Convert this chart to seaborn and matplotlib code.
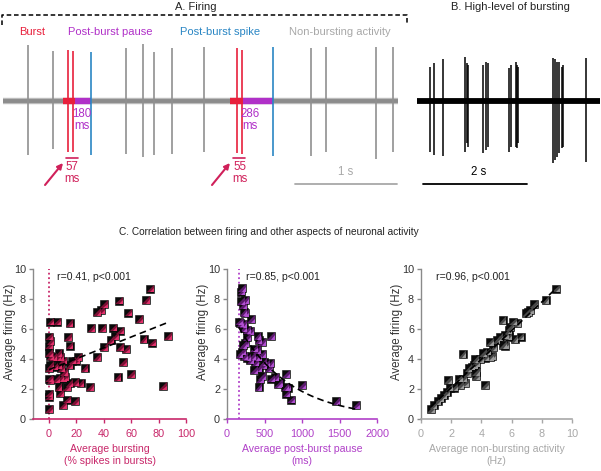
import numpy as np
import matplotlib
matplotlib.use("Agg")
import matplotlib.pyplot as plt
from matplotlib.path import Path
import seaborn as sns

sns.set_theme(style="white")
plt.rcParams['font.family'] = ['Liberation Sans', 'DejaVu Sans']
plt.rcParams['font.size'] = 8

# ---------------- data ----------------
# Panel A: spike times (s) and amplitudes (up / down, a.u.)
a_gray_t = [0.245, 0.49, 1.206, 1.373, 1.48, 1.657, 1.97, 3.02, 3.167, 3.657, 3.824]
a_gray_up = [56, 50, 53, 57, 49, 53, 54, 53, 54, 54, 54]
a_gray_dn = [54, 48, 53, 56, 54, 53, 51, 55, 51, 58, 51]
a_burst_t = [0.637, 0.686, 2.294, 2.343]
a_burst_up = [51, 50, 53, 51]
a_burst_dn = [51, 51, 52, 53]
a_pbs_t = [0.863, 2.647]
a_pbs_up = [49, 54]
a_pbs_dn = [54, 55]
a_duration = 3.873
a_burst_win = [(0.588, 0.706), (2.225, 2.353)]
a_pause_win = [(0.706, 0.863), (2.353, 2.647)]
a_pause_lbl = ["180\nms", "286\nms"]
a_burst_lbl = ["57\nms", "55\nms"]

# Panel B: high-level of bursting
b_t = [0.25, 0.327, 0.5, 0.923, 0.962, 0.981, 1.269, 1.327, 1.365, 1.769, 1.808,
       1.904, 1.923, 1.942, 2.615, 2.654, 2.692, 2.731, 2.788, 2.808, 3.25]
b_up = [34, 38, 42, 44, 38, 36, 36, 39, 38, 33, 36, 39, 36, 34, 43, 42, 39, 39, 34, 36, 43]
b_dn = [51, 54, 55, 51, 42, 46, 52, 49, 46, 51, 46, 46, 47, 42, 62, 59, 56, 52, 47, 46, 61]
b_duration = 3.52

# Panel C1: bursting (%) vs firing (Hz)
x1 = [0, 0, 0, 0, 1, 0, 1, 0, 1, 0, 1, 0, 1, 6, 15, 14, 15, 3, 6, 7, 8, 10, 4, 7, 9, 11, 5, 8,
      10, 12, 7, 8, 13, 13, 10, 19, 15, 19, 23, 15, 17, 20, 21, 26, 30, 31, 35, 35, 38, 40, 39,
      40, 45, 47, 48, 51, 52, 52, 54, 56, 50, 58, 60, 66, 69, 71, 74, 75, 83, 87]
y1 = [0.65, 1.7, 1.5, 2.7, 2.6, 3.4, 3.6, 4.4, 4.2, 4.9, 5.2, 5.5, 6.5, 6.5, 6.4, 5.45, 4.9,
      4.15, 4.1, 4.4, 4.15, 3.9, 3.5, 3.6, 3.4, 3.15, 2.65, 2.75, 2.7, 2.8, 2.15, 1.75, 2.15,
      1.3, 0.95, 1.2, 2.4, 2.45, 2.4, 3.6, 3.9, 3.9, 4.15, 3.4, 2.15, 6.05, 4.15, 7.15, 7.25,
      7.65, 6.05, 4.8, 5.25, 6.1, 5.55, 7.9, 5.9, 4.8, 3.8, 4.65, 2.8, 7.1, 3.0, 6.65, 5.35,
      7.95, 8.7, 5.1, 2.2, 5.55]
thr1 = 0

# Panel C2: post-burst pause (ms) vs firing (Hz)
x2 = [191, 200, 187, 244, 213, 222, 236, 324, 156, 178, 213, 222, 267, 311, 267, 244, 213, 409,
      587, 422, 467, 356, 400, 169, 200, 231, 267, 333, 387, 422, 467, 311, 378, 489, 520, 578,
      364, 422, 489, 556, 467, 436, 587, 644, 422, 702, 676, 778, 809, 791, 787, 853, 1000,
      1458, 1716]
y2 = [8.5, 8.75, 7.85, 7.95, 7.6, 7.15, 7.05, 6.65, 6.5, 6.4, 6.35, 6.05, 5.95, 5.85, 5.45,
      5.05, 4.95, 5.55, 5.55, 5.25, 5.15, 4.7, 4.6, 4.35, 4.5, 4.2, 4.1, 4.2, 4.15, 4.15, 4.35,
      3.95, 3.8, 3.8, 3.7, 3.75, 3.25, 3.4, 3.6, 3.4, 2.85, 2.65, 2.7, 2.8, 2.15, 2.4, 2.35,
      2.15, 2.1, 1.7, 3.0, 1.3, 2.25, 1.2, 0.93]
thr2 = 164

# Panel C3: non-bursting activity (Hz) vs firing (Hz)
x3 = [0.66, 0.84, 1.1, 1.3, 1.5, 1.7, 1.8, 1.9, 2.2, 2.5, 2.6, 2.9, 2.8, 2.75, 3.05, 3.15,
      3.35, 3.5, 3.6, 3.65, 3.65, 3.65, 3.9, 4.25, 4.1, 4.25, 4.4, 4.55, 4.7, 4.55, 4.8, 5.0,
      5.2, 5.45, 5.55, 5.4, 5.55, 5.8, 5.8, 5.9, 6.1, 6.35, 6.2, 6.6, 6.95, 7.1, 7.2, 7.5,
      8.25, 8.95]
y3 = [0.65, 0.93, 1.2, 1.4, 1.6, 1.8, 2.6, 2.1, 2.1, 2.7, 2.25, 2.4, 2.7, 4.35, 3.05, 3.4,
      3.5, 3.6, 4.0, 3.7, 3.15, 2.85, 4.0, 2.25, 4.4, 4.1, 4.5, 4.15, 4.2, 5.15, 4.8, 5.25,
      5.45, 4.95, 4.9, 6.6, 5.6, 5.95, 5.5, 6.15, 6.5, 6.4, 5.35, 5.5, 7.05, 7.15, 7.25, 7.65,
      7.95, 8.7]

stats = ["r=0.41, p<0.001", "r=0.85, p<0.001", "r=0.96, p<0.001"]
xlabels = ["Average bursting\n(% spikes in bursts)", "Average post-burst pause\n(ms)",
           "Average non-bursting activity\n(Hz)"]
xticks = [[0, 20, 40, 60, 80, 100], [0, 500, 1000, 1500, 2000], [0, 2, 4, 6, 8, 10]]
yticks = [0, 2, 4, 6, 8, 10]

# ---------------- style ----------------
RED = "#e8203c"
CRIM = "#d0205a"
PURP = "#b030c8"
BLUE = "#2a86c4"
GRAY = "#909090"
LGRAY = "#a8a8a8"
C1 = "#c8286a"
C2 = "#b040c8"
C3 = "#a8a8a8"
FS_A = 8.0
FS_T = 7.8

W, H = 601, 471
fig = plt.figure(figsize=(W / 100, H / 100), dpi=100)


def px_axes(x0, x1, ytop, ybot):
    return fig.add_axes([x0 / W, 1 - ybot / H, (x1 - x0) / W, (ybot - ytop) / H])


# ---------------- Panel A ----------------
axA = px_axes(3, 398, 31, 191)
axA.set_xlim(0, 395 / 102)
axA.set_ylim(-90, 70)
axA.axis("off")
axA.plot([0, a_duration], [0, 0], color="#a0a0a0", lw=4.6, solid_capstyle="butt", alpha=0.7)
axA.plot([0, a_duration], [0, 0], color="#8c8c8c", lw=2.8, solid_capstyle="butt")
for (s, e) in a_burst_win:
    axA.plot([s, e], [0, 0], color=RED, lw=4.6, solid_capstyle="butt")
for (s, e) in a_pause_win:
    axA.plot([s, e], [0, 0], color=PURP, lw=4.6, solid_capstyle="butt")
axA.vlines(a_gray_t, [-d for d in a_gray_dn], a_gray_up, color=GRAY, lw=1.2)
axA.vlines(a_burst_t, [-d for d in a_burst_dn], a_burst_up, color=RED, lw=1.2)
axA.vlines(a_pbs_t, [-d for d in a_pbs_dn], a_pbs_up, color=BLUE, lw=1.2)

axA.text(0.284, 69, "Burst", color=RED, ha="center", va="center", fontsize=FS_A)
axA.text(1.05, 69, "Post-burst pause", color=PURP, ha="center", va="center", fontsize=FS_A)
axA.text(2.13, 69, "Post-burst spike", color=BLUE, ha="center", va="center", fontsize=FS_A)
axA.text(3.30, 69, "Non-bursting activity", color=LGRAY, ha="center", va="center", fontsize=FS_A)
axA.text(1.893, 94, "A. Firing", color="#222222", ha="center", va="center", fontsize=FS_A)
axA.plot([-0.01, -0.01, 3.96, 3.96], [76, 86, 86, 76], color="black", lw=1.1,
         ls=(0, (3, 1.8)), clip_on=False)

for (s, e), lbl in zip(a_pause_win, a_pause_lbl):
    axA.text(s + 0.07, -19, lbl, color=PURP, ha="center",
             va="center", fontsize=8.3, linespacing=0.95)
for (s, e), lbl in zip(a_burst_win, a_burst_lbl):
    xm = (s + e) / 2 + 0.02
    axA.text(xm + 0.01, -72, lbl, color=CRIM, ha="center", va="center", fontsize=8.3,
             linespacing=0.95)
    axA.plot([s + 0.03, s + 0.147], [-57, -57], color=CRIM, lw=1.2)
    axA.annotate("", xy=(s, -62), xytext=(s - 0.176, -84),
                 arrowprops=dict(arrowstyle="-|>", color=CRIM, lw=1.5, mutation_scale=8,
                                 shrinkA=0, shrinkB=0))
axA.plot([2.863, 3.863], [-83, -83], color=LGRAY, lw=1.3)
axA.text(3.36, -71, "1 s", color=LGRAY, ha="center", va="center", fontsize=8.3)

# ---------------- Panel B ----------------
axB = px_axes(417, 600, 31, 191)
axB.set_xlim(0, 183 / 52)
axB.set_ylim(-90, 70)
axB.axis("off")
axB.plot([0, b_duration], [0, 0], color="black", lw=4.2, solid_capstyle="butt")
axB.vlines(b_t, [-d for d in b_dn], b_up, color="black", lw=1.1)
axB.plot([0.115, 2.115], [-83, -83], color="black", lw=1.3)
axB.text(1.19, -71, "2 s", color="black", ha="center", va="center", fontsize=8.3)
axB.text(1.79, 94, "B. High-level of bursting", color="#222222", ha="center", va="center",
         fontsize=FS_A)

# ---------------- Panel C ----------------
fig.text(269 / W, 1 - 232 / H, "C. Correlation between firing and other aspects of neuronal activity",
         ha="center", va="center", fontsize=7.3, color="#222222")

ax1 = px_axes(33, 186, 269, 419)
ax2 = px_axes(227, 377, 269, 419)
ax3 = px_axes(421, 572, 269, 419)

M, L, C = Path.MOVETO, Path.LINETO, Path.CLOSEPOLY
half_tri = Path([(-1, -1), (1, -1), (1, 1), (-1, -1)], [M, L, L, C])
corner_tri = Path([(-1, 1), (-0.1, -1), (1, -1), (1, 0.1), (-0.1, -1)], [M, M, L, L, C])

specs = [
    (ax1, x1, y1, C1, "#7a1034", "#e0306a", (-11.7, 100), -0.114, 0.157),
    (ax2, x2, y2, C2, "#5a1a6c", "#b050d0", (0, 2000), -0.123, 0.127),
    (ax3, x3, y3, C3, "#484848", "#9a9a9a", (0, 10), -0.122, 0.10),
]
for i, (ax, xs, ys, axc, mid, bright, xl, ylx, stx) in enumerate(specs):
    if i == 0:
        ax.axvline(thr1, color=axc, ls=(0, (1, 1.5)), lw=1.3)
    if i == 1:
        ax.axvline(thr2, color=axc, ls=(0, (1, 1.5)), lw=1.3)
    sns.scatterplot(x=xs, y=ys, ax=ax, marker="s", s=38, color="#0a0a0a",
                    edgecolor="#0a0a0a", linewidth=0.4, zorder=3)
    sns.scatterplot(x=xs, y=ys, ax=ax, marker=half_tri, s=30, color=mid,
                    edgecolor="none", linewidth=0, zorder=4)
    sns.scatterplot(x=xs, y=ys, ax=ax, marker=corner_tri, s=30, color=bright,
                    edgecolor="none", linewidth=0, zorder=4.5)
    if i == 1:
        k, lna = np.polyfit(xs, np.log(ys), 1)
        xf = np.linspace(min(xs), max(xs), 200)
        sns.lineplot(x=xf, y=np.exp(lna + k * xf), ax=ax, color="black", lw=1.2,
                     ls=(0, (4, 2.5)), zorder=5)
    else:
        sns.regplot(x=xs, y=ys, ax=ax, scatter=False, ci=None, color="black",
                    line_kws=dict(lw=1.2, ls=(0, (4, 2.5)), zorder=5))
    ax.set_xlim(*xl)
    ax.set_ylim(0, 10)
    ax.set_xticks(xticks[i])
    ax.set_yticks(yticks)
    for sp in ["top", "right"]:
        ax.spines[sp].set_visible(False)
    ax.spines["left"].set_color("#8a8a8a")
    ax.spines["left"].set_linewidth(1.0)
    ax.spines["bottom"].set_color(axc)
    ax.spines["bottom"].set_linewidth(1.2)
    ax.tick_params(axis="x", bottom=True, direction="out", length=3, width=1.0, colors=axc,
                   labelsize=FS_T, pad=4)
    ax.tick_params(axis="y", left=True, direction="out", length=3, width=1.0, color="#8a8a8a",
                   labelcolor="#333333", labelsize=FS_T, pad=2)
    ax.set_xlabel(xlabels[i], color=axc, fontsize=7.6, linespacing=1.25)
    ax.xaxis.set_label_coords(0.5, -0.17)
    ax.set_ylabel("Average firing (Hz)", color="#333333", fontsize=8.3)
    ax.yaxis.set_label_coords(ylx, 0.58)
    ax.text(stx, 0.947, stats[i], transform=ax.transAxes, ha="left", va="center",
            fontsize=7.6, color="#222222")
    ax.grid(False)

fig.savefig("out.png", dpi=100)
